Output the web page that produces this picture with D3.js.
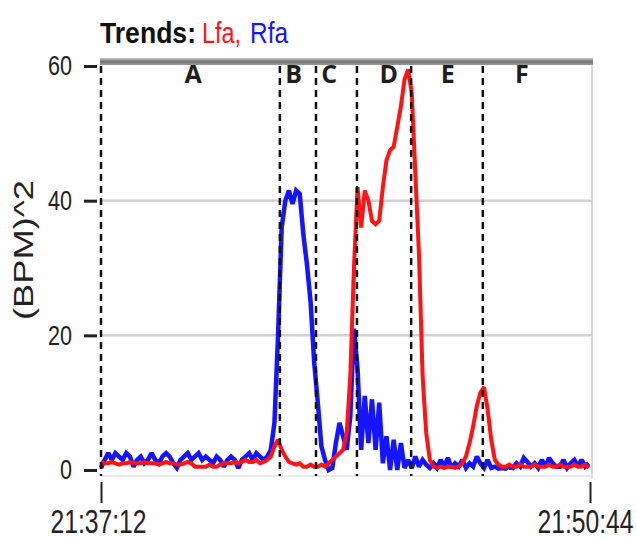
<!DOCTYPE html>
<html>
<head>
<meta charset="utf-8">
<script src="https://cdn.jsdelivr.net/npm/d3@7"></script>
<style>
  html, body { margin: 0; padding: 0; background: #fefefe; }
  svg { display: block; }
</style>
</head>
<body>
<svg id="chart" width="636" height="541"></svg>
<script>
// ---------------- data ----------------
const startTime = "21:37:12";
const endTime = "21:50:44";
const sampleStepSec = 6;
const yTicks = [0, 20, 40, 60];
const seriesNames = ["Lfa", "Rfa"];
const seriesColors = ["#ff1414", "#1414ff"];

const lfaValues = [
  1.2,1.0,1.0,1.2,1.0,0.8,1.0,1.0,1.2,1.0,
  1.0,1.0,1.2,1.0,1.0,1.0,0.8,1.0,1.2,1.0,
  1.0,0.8,0.8,1.0,1.2,1.0,0.5,0.5,0.5,0.5,
  0.8,0.5,0.5,0.8,1.0,1.0,1.0,1.2,1.0,1.2,
  1.5,1.2,1.2,1.5,1.0,1.2,1.5,2.0,3.5,4.5,
  3.0,2.0,1.2,1.0,0.8,1.0,0.5,0.5,0.8,0.5,
  0.5,0.8,0.5,1.0,1.5,2.0,2.5,3.0,5.5,14,
  30,42,36,41.5,40,37,36.5,37,42,46,
  47.5,48,51,54,58,59.5,56,44,32,14,
  5.5,1.5,0.5,0.3,0.5,0.3,0.5,0.5,0.3,0.5,
  1.0,2.0,4.0,6.5,9.5,11.5,12.3,9.0,4.5,1.5,
  0.8,0.5,0.5,0.8,0.5,0.5,0.8,0.5,0.5,0.5,
  0.8,0.5,0.5,0.5,0.8,0.5,0.5,0.8,0.5,0.5,
  0.5,0.8,0.5,0.5,0.8,0.3
];

const rfaValues = [
  0.3,1.5,2.5,1.5,2.5,2.0,1.5,2.5,2.0,0.5,
  1.5,2.0,1.0,1.5,2.5,1.5,1.0,2.0,2.5,2.0,
  1.0,0.3,1.5,2.0,2.5,1.5,2.0,2.5,1.5,2.0,
  1.5,1.0,2.0,1.5,0.5,1.5,2.0,1.5,0.3,1.5,
  2.0,2.5,1.5,2.5,2.0,1.5,2.0,3.0,7,20,
  36,40,41.5,39.5,41.5,41,35,30.5,25,16,
  10,3.5,1.5,0,0.3,4,7,5,3,8,
  21,15,3,11,4,10.5,3,10,1,5,
  0,4.5,0,4,0.3,1.5,0.3,2,0.5,1.5,
  0.8,0.3,1.0,0.3,1.5,0.5,1.8,0.3,1.0,0.5,
  1.5,0.3,1.0,0.5,2.0,1.0,0.3,1.5,0.3,0.5,
  0.2,0.3,0.2,0.5,0.3,1.0,0.5,1.8,1.2,0.5,
  1.0,0.3,1.5,0.5,1.8,1.0,0.5,0.5,1.5,0.3,
  1.0,1.5,0.5,1.5,0.5,1.0
];

const phaseLabels = ["A", "B", "C", "D", "E", "F"];
const phaseStartSec = [0, 297, 357, 425, 515, 634];
const phaseLabelSec = [153, 320, 379, 478, 576, 699];

// ---------------- chart ----------------
const svg = d3.select("#chart");
const parse = d3.timeParse("%H:%M:%S");
const t0 = parse(startTime), t1 = parse(endTime);
const at = s => new Date(t0.getTime() + s * 1000);

const x = d3.scaleTime().domain([t0, t1]).range([101, 590]);
const y = d3.scaleLinear().domain([0, 60]).range([470, 66]);

// title
const title = svg.append("g").attr("font-family", "Liberation Sans, Arial, sans-serif");
title.append("text").attr("x", 100).attr("y", 43).attr("font-size", 29).attr("font-weight", "bold")
  .attr("fill", "#111").attr("textLength", 96).attr("lengthAdjust", "spacingAndGlyphs").text("Trends:");
title.append("text").attr("x", 202).attr("y", 43).attr("font-size", 29)
  .attr("fill", seriesColors[0]).attr("textLength", 39).attr("lengthAdjust", "spacingAndGlyphs").text(seriesNames[0] + ",");
title.append("text").attr("x", 250).attr("y", 43).attr("font-size", 29)
  .attr("fill", seriesColors[1]).attr("textLength", 38).attr("lengthAdjust", "spacingAndGlyphs").text(seriesNames[1]);

// frame
svg.append("line").attr("x1", 592).attr("x2", 592).attr("y1", 60).attr("y2", 478)
  .attr("stroke", "#d8d8d8").attr("stroke-width", 2);
svg.append("line").attr("x1", 101).attr("x2", 593).attr("y1", 476).attr("y2", 476)
  .attr("stroke", "#e2e6e6").attr("stroke-width", 1.5);

// gridlines
svg.append("g").selectAll("line").data(yTicks.filter(v => v > 0 && v < 60)).join("line")
  .attr("x1", 101).attr("x2", 592)
  .attr("y1", d => y(d)).attr("y2", d => y(d))
  .attr("stroke", "#d2d2d2").attr("stroke-width", 2.5);

// top thick border
const grad = svg.append("defs").append("linearGradient").attr("id", "topg")
  .attr("x1", 0).attr("x2", 0).attr("y1", 0).attr("y2", 1);
grad.append("stop").attr("offset", "0%").attr("stop-color", "#c8c8c8");
grad.append("stop").attr("offset", "50%").attr("stop-color", "#777");
grad.append("stop").attr("offset", "100%").attr("stop-color", "#9a9a9a");
svg.append("rect").attr("x", 100).attr("y", 58).attr("width", 493).attr("height", 7)
  .attr("fill", "url(#topg)");

// y axis
const yAxis = svg.append("g").attr("transform", "translate(97,0)")
  .call(d3.axisLeft(y).tickValues(yTicks).tickSize(13).tickPadding(12));
yAxis.select(".domain").remove();
yAxis.selectAll(".tick line").attr("stroke", "#222").attr("stroke-width", 3);
yAxis.selectAll(".tick text")
  .attr("font-family", "Liberation Sans, Arial, sans-serif")
  .attr("font-size", 28).attr("fill", "#222")
  .attr("textLength", d => String(d).length * 12)
  .attr("lengthAdjust", "spacingAndGlyphs");

// y title
svg.append("text")
  .attr("transform", "translate(33,250) rotate(-90)")
  .attr("text-anchor", "middle")
  .attr("font-family", "Liberation Sans, Arial, sans-serif")
  .attr("font-size", 28).attr("fill", "#222")
  .attr("textLength", 140).attr("lengthAdjust", "spacingAndGlyphs")
  .text("(BPM)^2");

// x axis
const xAxis = svg.append("g").attr("transform", "translate(0,482)")
  .call(d3.axisBottom(x).tickValues([t0, t1]).tickSize(21).tickFormat(d3.timeFormat("%H:%M:%S")));
xAxis.select(".domain").remove();
xAxis.selectAll(".tick line").attr("stroke", "#222").attr("stroke-width", 2);
xAxis.selectAll(".tick text")
  .attr("y", null).attr("dy", null)
  .attr("transform", (d, i) => `translate(${i === 0 ? -3 : -5},51) scale(0.95,1.25)`)
  .attr("font-family", "Liberation Sans, Arial, sans-serif")
  .attr("font-size", 26).attr("fill", "#222");

// series
const series = [
  { name: seriesNames[1], color: seriesColors[1], values: rfaValues, width: 4.5 },
  { name: seriesNames[0], color: seriesColors[0], values: lfaValues, width: 4 }
];
const line = d3.line()
  .x((d, i) => x(at(i * sampleStepSec)))
  .y(d => y(d));
svg.append("g").selectAll("path").data(series).join("path")
  .attr("d", d => line(d.values))
  .attr("fill", "none")
  .attr("stroke", d => d.color)
  .attr("stroke-width", d => d.width)
  .attr("stroke-linejoin", "miter")
  .attr("stroke-miterlimit", 2);

// phase markers
svg.append("g").selectAll("line").data(phaseStartSec).join("line")
  .attr("x1", d => x(at(d))).attr("x2", d => x(at(d)))
  .attr("y1", 66).attr("y2", 476)
  .attr("stroke", "#111").attr("stroke-width", 2.5)
  .attr("stroke-dasharray", "7,5");

svg.append("g").selectAll("text").data(phaseLabels).join("text")
  .attr("x", (d, i) => x(at(phaseLabelSec[i])))
  .attr("y", 83)
  .attr("text-anchor", "middle")
  .attr("font-family", "Open Sans, Noto Sans, sans-serif")
  .attr("font-weight", "bold")
  .attr("font-size", 25)
  .attr("fill", "#1e1e1e")
  .text(d => d);
</script>
</body>
</html>
